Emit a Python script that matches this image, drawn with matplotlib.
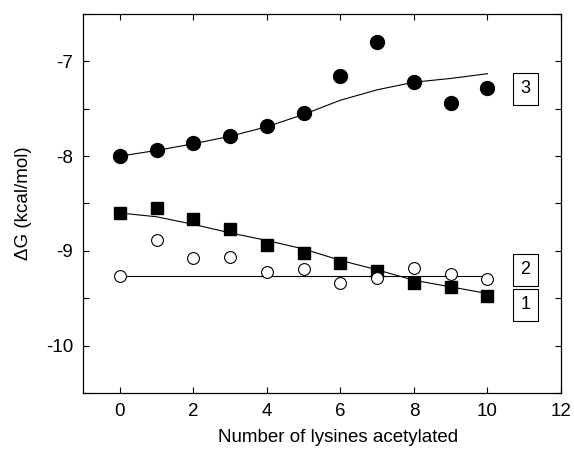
import matplotlib
matplotlib.use("Agg")
import matplotlib.pyplot as plt
from matplotlib.ticker import MultipleLocator

plt.rcParams['font.family'] = ['Liberation Sans', 'DejaVu Sans']

x = list(range(11))
s3 = [-8.00, -7.94, -7.86, -7.79, -7.68, -7.55, -7.15, -6.80, -7.22, -7.44, -7.28]
fit3 = [-8.00, -7.94, -7.87, -7.79, -7.69, -7.56, -7.41, -7.30, -7.22, -7.18, -7.13]
s1 = [-8.60, -8.55, -8.66, -8.77, -8.94, -9.02, -9.13, -9.21, -9.34, -9.38, -9.48]
fit1 = [-8.60, -8.64, -8.72, -8.81, -8.89, -8.98, -9.10, -9.20, -9.31, -9.38, -9.45]
s2 = [-9.27, -8.89, -9.08, -9.06, -9.22, -9.19, -9.34, -9.29, -9.18, -9.24, -9.30]
fit2 = [-9.27] * 11
labels = ["3", "2", "1"]
label_y = [-7.29, -9.20, -9.57]

fig = plt.figure(figsize=(5.74, 4.53), dpi=100)
ax = fig.add_axes([83/574, 1-393/453, (561-83)/574, (393-14)/453])

ax.plot(x, fit3, color='black', lw=0.8)
ax.plot(x, fit1, color='black', lw=0.8)
ax.plot(x, fit2, color='black', lw=0.8)
ax.plot(x, s3, 'o', color='black', ms=10, mec='black')
ax.plot(x, s1, 's', color='black', ms=8, mec='black')
ax.plot(x, s2, 'o', mfc='white', mec='black', ms=8.5, mew=0.8)

for lab, yy in zip(labels, label_y):
    ax.text(11.03, yy, lab, ha='center', va='center', fontsize=13,
            bbox=dict(boxstyle='square,pad=0.4', fc='white', ec='black', lw=0.8))

ax.set_xlim(-1, 12)
ax.set_ylim(-10.5, -6.5)
ax.set_xticks([0, 2, 4, 6, 8, 10, 12])
ax.set_yticks([-7, -8, -9, -10])
ax.set_yticklabels(['-7', '-8', '-9', '-10'])
ax.yaxis.set_minor_locator(MultipleLocator(0.5))
ax.tick_params(axis='both', which='both', direction='in', top=True, right=True, labelsize=13.5, width=0.8)
ax.tick_params(axis='both', which='major', length=4)
ax.tick_params(axis='x', which='major', pad=7)
ax.tick_params(axis='y', which='major', pad=7)
ax.tick_params(axis='both', which='minor', length=4)
for sp in ax.spines.values():
    sp.set_linewidth(0.9)

ax.set_xlabel('Number of lysines acetylated', fontsize=13.5)
ax.xaxis.set_label_coords(0.533, -0.095)
ax.set_ylabel('\u0394G (kcal/mol)', fontsize=13.5, labelpad=10)

fig.savefig('out.png', dpi=100)
